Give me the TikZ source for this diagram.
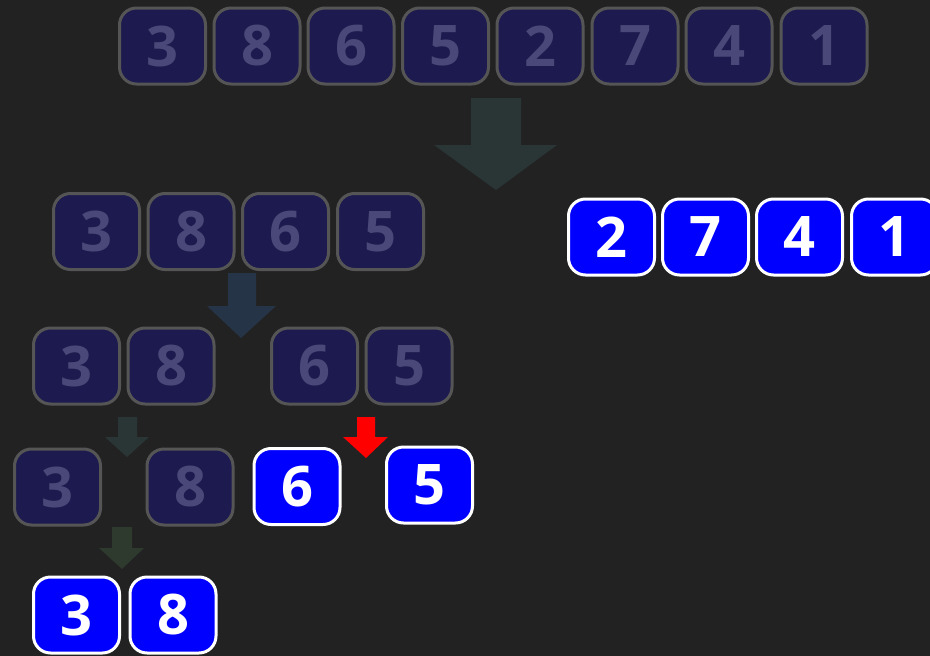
\documentclass[tikz,border=0pt]{standalone}
\usepackage{fontspec}
\setmainfont{Open Sans}
\usepackage{tikz}
\usetikzlibrary{positioning}

\definecolor{bgdark}{HTML}{222222}
\definecolor{cellfill}{HTML}{1C1A4E}
\definecolor{cellline}{HTML}{555555}
\definecolor{celltext}{HTML}{4A4878}
\definecolor{arrowteal}{HTML}{2A3535}
\definecolor{arrowslate}{HTML}{263447}
\definecolor{arrowgreen}{HTML}{2D3A2D}

\tikzset{
  cell/.style={draw=cellline, fill=cellfill, text=celltext, line width=3pt,
    rounded corners=17pt, minimum width=86pt, minimum height=76pt,
    inner sep=0pt, font=\fontsize{56}{60}\selectfont\bfseries},
  activecell/.style={cell, draw=white, fill=blue, text=white}
}

\begin{document}
\begin{tikzpicture}[x=1pt,y=-1pt]
  % Background
  \fill[bgdark] (0,0) rectangle (930,656);
  \useasboundingbox (0,0) rectangle (930,656);
  % Whole array
  \node[cell] (a1) at (162.5,46) {3};
  \node[cell] (a2) at (257,46) {8};
  \node[cell] (a3) at (351,46) {6};
  \node[cell] (a4) at (445.5,46) {5};
  \node[cell] (a5) at (540,46) {2};
  \node[cell] (a6) at (635,46) {7};
  \node[cell] (a7) at (729,46) {4};
  \node[cell] (a8) at (824,46) {1};
  % First split
  \fill[arrowteal] (471,98) -- (521,98) -- (521,145) -- (557,145) -- (496,190)
    -- (434,145) -- (471,145) -- cycle;
  \node[cell] (l1) at (96.5,231.5) {3};
  \node[cell] (l2) at (191,231.5) {8};
  \node[cell] (l3) at (285.5,231.5) {6};
  \node[cell] (l4) at (380.5,231.5) {5};
  \node[activecell] (r1) at (611.5,237) {2};
  \node[activecell] (r2) at (705.5,237) {7};
  \node[activecell] (r3) at (799.5,237) {4};
  \node[activecell] (r4) at (894.5,237) {1};
  % Second split
  \fill[arrowslate] (228,273) -- (256,273) -- (256,306) -- (276,306) -- (241,338)
    -- (207,306) -- (228,306) -- cycle;
  \node[cell] (ll1) at (76.5,366) {3};
  \node[cell] (ll2) at (171,366) {8};
  \node[cell] (lr1) at (314.5,366) {6};
  \node[cell] (lr2) at (409,366) {5};
  % Third split
  \fill[arrowteal] (118,417) -- (137,417) -- (137,437) -- (149,437) -- (127,457)
    -- (105,437) -- (118,437) -- cycle;
  \fill[red] (357,417) -- (375,417) -- (375,437) -- (388,437) -- (366,458)
    -- (343,437) -- (357,437) -- cycle;
  \node[cell] (s1) at (57.5,487) {3};
  \node[cell] (s2) at (190,487) {8};
  \node[activecell] (s3) at (297,486.5) {6};
  \node[activecell] (s4) at (429.5,485) {5};
  % Merged pair
  \fill[arrowgreen] (112,527) -- (132,527) -- (132,548) -- (144,548) -- (122,569)
    -- (99,548) -- (112,548) -- cycle;
  \node[activecell] (m1) at (76.5,615) {3};
  \node[activecell] (m2) at (173,615) {8};
\end{tikzpicture}
\end{document}
